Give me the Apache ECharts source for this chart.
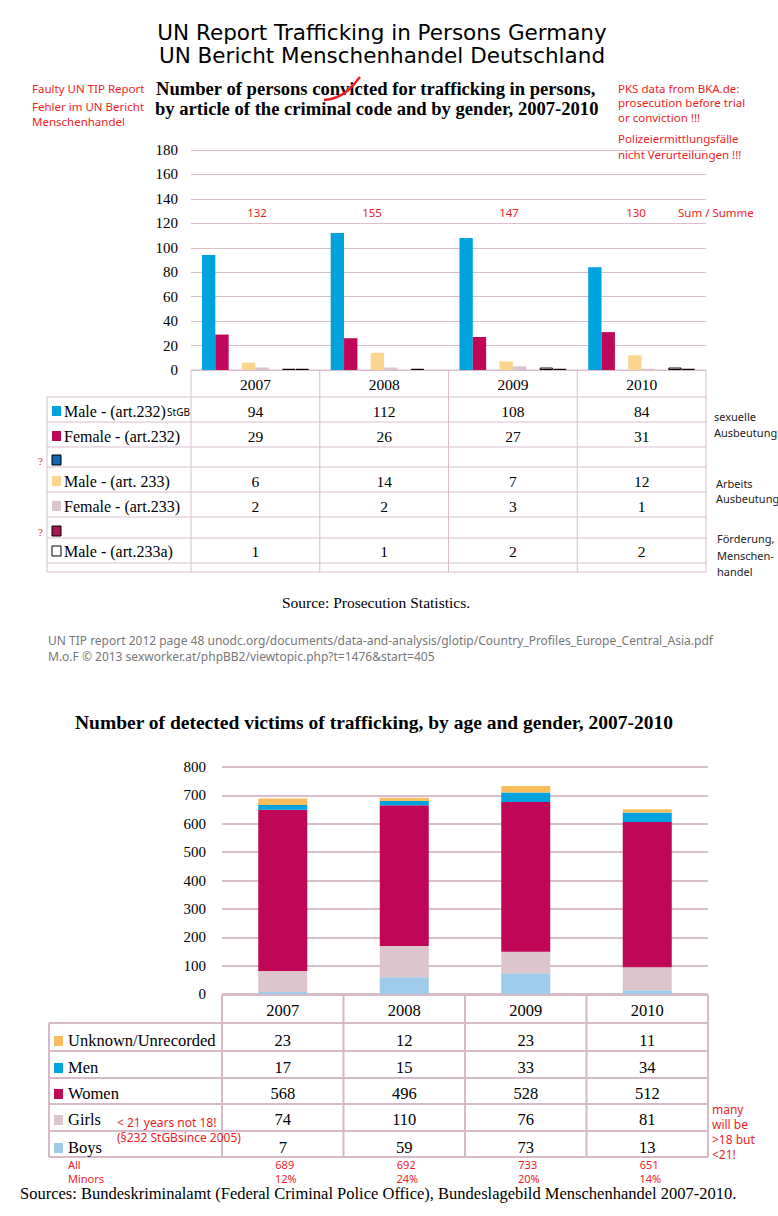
<!DOCTYPE html>
<html><head><meta charset="utf-8">
<script src="https://cdn.jsdelivr.net/npm/echarts/dist/echarts.min.js"></script>
<style>html,body{margin:0;padding:0;background:#fff}#c{width:778px;height:1216px}</style>
</head><body><div id="c"></div>
<script>
// ---------- DATA ----------
const years = ['2007', '2008', '2009', '2010'];
// chart 1: persons convicted (by article and gender)
const male232 = [94, 112, 108, 84];
const female232 = [29, 26, 27, 31];
const unlabeledA = [null, null, null, null];
const male233 = [6, 14, 7, 12];
const female233 = [2, 2, 3, 1];
const unlabeledB = [null, null, null, null];
const male233a = [1, 1, 2, 2];
const unlabeledC = [1, null, 1, 1];
const sums = [132, 155, 147, 130];
const topAxisMax = 180, topAxisStep = 20;
// chart 2: detected victims
const unknownVictims = [23, 12, 23, 11];
const menVictims = [17, 15, 33, 34];
const womenVictims = [568, 496, 528, 512];
const girlsVictims = [74, 110, 76, 81];
const boysVictims = [7, 59, 73, 13];
const allVictims = [689, 692, 733, 651];
const minorsShare = ['12%', '24%', '20%', '14%'];
const bottomAxisMax = 800, bottomAxisStep = 100;

// ---------- STYLE ----------
const serif = "'Liberation Serif','Times New Roman',serif";
const sans = "'Noto Sans','DejaVu Sans',sans-serif";
const RED = '#EE1C25';
const GRIDC = '#D8BFCB';

const topSeries = [
  {name: 'Male - (art.232)', tag: 'StGB', data: male232, color: '#00A3DE'},
  {name: 'Female - (art.232)', data: female232, color: '#C00656'},
  {name: '', data: unlabeledA, color: '#1565B0', border: '#000', q: true},
  {name: 'Male - (art. 233)', data: male233, color: '#FCD590'},
  {name: 'Female - (art.233)', data: female233, color: '#DDC4CD'},
  {name: '', data: unlabeledB, color: '#A8174F', border: '#000', q: true},
  {name: 'Male - (art.233a)', data: male233a, color: '#FFFFFF', border: '#000'},
  {name: '', data: unlabeledC, color: '#FFFFFF', border: '#000', noRow: true}
];
const bottomSeries = [
  {name: 'Boys', data: boysVictims, color: '#9ECBE9'},
  {name: 'Girls', data: girlsVictims, color: '#DDC4CD'},
  {name: 'Women', data: womenVictims, color: '#C00656'},
  {name: 'Men', data: menVictims, color: '#00A3DE'},
  {name: 'Unknown/Unrecorded', data: unknownVictims, color: '#F9BD5E'}
];

const chart = echarts.init(document.getElementById('c'), null, {renderer: 'svg', width: 778, height: 1216});

const yAxisCommon = (gi, max, step, margin, lw) => ({
  gridIndex: gi, type: 'value', min: 0, max: max, interval: step,
  axisLine: {show: false}, axisTick: {show: false},
  axisLabel: {fontFamily: serif, fontSize: 15, color: '#000', margin: margin},
  splitLine: {lineStyle: {color: GRIDC, width: lw}}
});
const xAxisCommon = (gi) => ({
  gridIndex: gi, type: 'category', data: years,
  axisLine: {show: false}, axisTick: {show: false}, axisLabel: {show: false}
});

const series = [];
topSeries.forEach((s, i) => {
  series.push({
    type: 'bar', name: 'top' + i, xAxisIndex: 0, yAxisIndex: 0, data: s.data,
    barGap: '0%', barCategoryGap: '17%',
    itemStyle: {color: s.color, borderColor: s.border || s.color, borderWidth: s.border ? 1 : 0},
    silent: true
  });
});
bottomSeries.forEach((s, i) => {
  series.push({
    type: 'bar', name: 'bot' + i, xAxisIndex: 1, yAxisIndex: 1, data: s.data, stack: 'victims',
    barWidth: 49, itemStyle: {color: s.color}, silent: true
  });
});

chart.setOption({
  animation: false,
  grid: [
    {left: 191, top: 150, width: 515, height: 220, containLabel: false, outerBoundsMode: 'none'},
    {left: 222, top: 767, width: 486, height: 227, containLabel: false, outerBoundsMode: 'none'}
  ],
  xAxis: [xAxisCommon(0), xAxisCommon(1)],
  yAxis: [yAxisCommon(0, topAxisMax, topAxisStep, 13, 1), yAxisCommon(1, bottomAxisMax, bottomAxisStep, 16, 2)],
  series: series
});

// ---------- GRAPHIC (texts & tables) ----------
const G = [];
function T(x, y, text, o) {
  o = o || {};
  G.push({type: 'text', x: x, y: y, silent: true, style: {
    text: text, fill: o.fill || '#000', fontFamily: o.ff || serif, fontSize: o.fs || 15,
    fontWeight: o.fw || 'normal', align: o.al || 'left', verticalAlign: 'middle',
    textAlign: o.al || 'left', textVerticalAlign: 'middle'
  }});
}
function L(x1, y1, x2, y2, c, w) {
  G.push({type: 'line', silent: true, shape: {x1: x1, y1: y1, x2: x2, y2: y2}, style: {stroke: c || GRIDC, lineWidth: w || 1}});
}
function R(x, y, w, h, fill, stroke) {
  G.push({type: 'rect', silent: true, shape: {x: x, y: y, width: w, height: h},
    style: {fill: fill, stroke: stroke || null, lineWidth: stroke ? 1 : 0}});
}

// titles
T(382, 32, 'UN Report Trafficking in Persons Germany', {ff: "'DejaVu Sans',sans-serif", fs: 21.5, al: 'center'});
T(382, 55, 'UN Bericht Menschenhandel Deutschland', {ff: "'DejaVu Sans',sans-serif", fs: 21.5, al: 'center'});
T(156, 88, 'Number of persons convicted for trafficking in persons,', {fs: 18.6, fw: 'bold'});
T(155, 108, 'by article of the criminal code and by gender, 2007-2010', {fs: 18.6, fw: 'bold'});
G.push({type: 'bezierCurve', silent: true, shape: {x1: 324, y1: 100, x2: 360, y2: 77, cpx1: 346, cpy1: 98, cpx2: 354, cpy2: 84},
  style: {stroke: RED, lineWidth: 2.5, fill: null}});

// red notes
const rs = {ff: sans, fs: 11.5, fill: RED};
T(32, 88, 'Faulty UN TIP Report', rs);
T(32, 106, 'Fehler im UN Bericht', rs);
T(32, 121, 'Menschenhandel', rs);
T(618, 88, 'PKS data from BKA.de:', rs);
T(618, 102, 'prosecution before trial', rs);
T(618, 117, 'or conviction !!!', rs);
T(618, 138, 'Polizeiermittlungsfälle', rs);
T(618, 154, 'nicht Verurteilungen !!!', rs);

// top chart: table
const cx0 = years.map(y => chart.convertToPixel({xAxisIndex: 0}, y));
const band0 = cx0[1] - cx0[0];
const left0 = cx0[0] - band0 / 2, right0 = cx0[3] + band0 / 2;
const sumX = [257, 372, 509, 636];
sums.forEach((v, i) => T(sumX[i], 212, String(v), {ff: sans, fs: 11.5, fill: RED, al: 'center'}));
T(678, 212, 'Sum / Summe', rs);

const tLeft0 = 47, hdrTop0 = 370, hdrBot0 = 397;
const rowEdges0 = [397, 422, 447, 467, 492, 517, 538, 563, 572];
const rowMid0 = [411, 436, 460, 481, 506, 531, 551];
L(left0, hdrTop0, right0, hdrTop0);
rowEdges0.forEach(y => L(tLeft0, y, right0, y));
L(tLeft0, hdrBot0, tLeft0, 572);
for (let i = 0; i <= years.length; i++) {
  const x = left0 + band0 * i;
  L(x, hdrTop0, x, 572);
}
years.forEach((y, i) => T(cx0[i], 384, y, {fs: 15.5, al: 'center'}));
topSeries.forEach((s, r) => {
  if (s.noRow) return;
  const ym = rowMid0[r];
  R(52, ym - 5, 9, 10, s.color, s.border || null);
  if (s.name) T(64, ym, s.name, {fs: 16});
  if (s.tag) T(left0 - 1, ym + 1, s.tag, {ff: sans, fs: 10, al: 'right'});
  if (s.q) T(38, ym + 1, '?', {fill: RED, fs: 11});
  s.data.forEach((v, i) => { if (v != null) T(cx0[i], ym, String(v), {fs: 15.5, al: 'center'}); });
});
const ds = {ff: sans, fs: 11, fill: '#222'};
T(714, 416, 'sexuelle', ds); T(714, 432, 'Ausbeutung', ds);
T(716, 483, 'Arbeits', ds); T(716, 498, 'Ausbeutung', ds);
T(717, 538, 'Förderung,', ds); T(717, 555, 'Menschen-', ds); T(717, 571, 'handel', ds);

T(376, 602, 'Source: Prosecution Statistics.', {fs: 15.5, al: 'center'});
const gs = {ff: sans, fs: 12, fill: '#777'};
T(48, 640, 'UN TIP report 2012 page 48 unodc.org/documents/data-and-analysis/glotip/Country_Profiles_Europe_Central_Asia.pdf', gs);
T(48, 656, 'M.o.F © 2013 sexworker.at/phpBB2/viewtopic.php?t=1476&start=405', gs);

// bottom chart
T(75, 722, 'Number of detected victims of trafficking, by age and gender, 2007-2010', {fs: 19.5, fw: 'bold'});
const cx1 = years.map(y => chart.convertToPixel({xAxisIndex: 1}, y));
const band1 = cx1[1] - cx1[0];
const left1 = cx1[0] - band1 / 2, right1 = cx1[3] + band1 / 2;
const tLeft1 = 49, hdrTop1 = 995;
const rowEdges1 = [1023, 1051, 1078, 1104, 1131, 1157];
const rowMid1 = [1040, 1067, 1093, 1119, 1147];
const TC2 = '#D5BAC7';
L(left1, hdrTop1, right1, hdrTop1, TC2, 2);
rowEdges1.forEach(y => L(tLeft1, y, right1, y, TC2, 2));
L(tLeft1, 1023, tLeft1, 1157, TC2, 2);
for (let i = 0; i <= years.length; i++) {
  const x = left1 + band1 * i;
  L(x, hdrTop1, x, 1157, TC2, 2);
}
years.forEach((y, i) => T(cx1[i], 1010, y, {fs: 16.5, al: 'center'}));
const rowsBottom = bottomSeries.slice().reverse();
rowsBottom.forEach((s, r) => {
  const ym = rowMid1[r];
  R(54, ym - 4, 9, 10, s.color);
  T(68, ym, s.name, {fs: 16.5});
  s.data.forEach((v, i) => T(cx1[i], ym, String(v), {fs: 16.5, al: 'center'}));
});
const rs2 = {ff: sans, fs: 12, fill: RED};
T(117, 1122, '< 21 years not 18!', rs2);
T(117, 1137, '(§232 StGBsince 2005)', rs2);
T(712, 1109, 'many', rs2); T(712, 1124, 'will be', rs2); T(712, 1139, '>18 but', rs2); T(712, 1154, '<21!', rs2);
const rs3 = {ff: sans, fs: 11, fill: RED};
T(68, 1164, 'All', rs3);
T(68, 1178, 'Minors', rs3);
allVictims.forEach((v, i) => T(cx1[i] + 2, 1164, String(v), Object.assign({al: 'center'}, rs3)));
minorsShare.forEach((v, i) => T(cx1[i] + 3, 1178, v, Object.assign({al: 'center'}, rs3)));
T(20, 1193, 'Sources: Bundeskriminalamt (Federal Criminal Police Office), Bundeslagebild Menschenhandel 2007-2010.', {fs: 16.5});

chart.setOption({graphic: {elements: G}});
</script>
</body></html>
